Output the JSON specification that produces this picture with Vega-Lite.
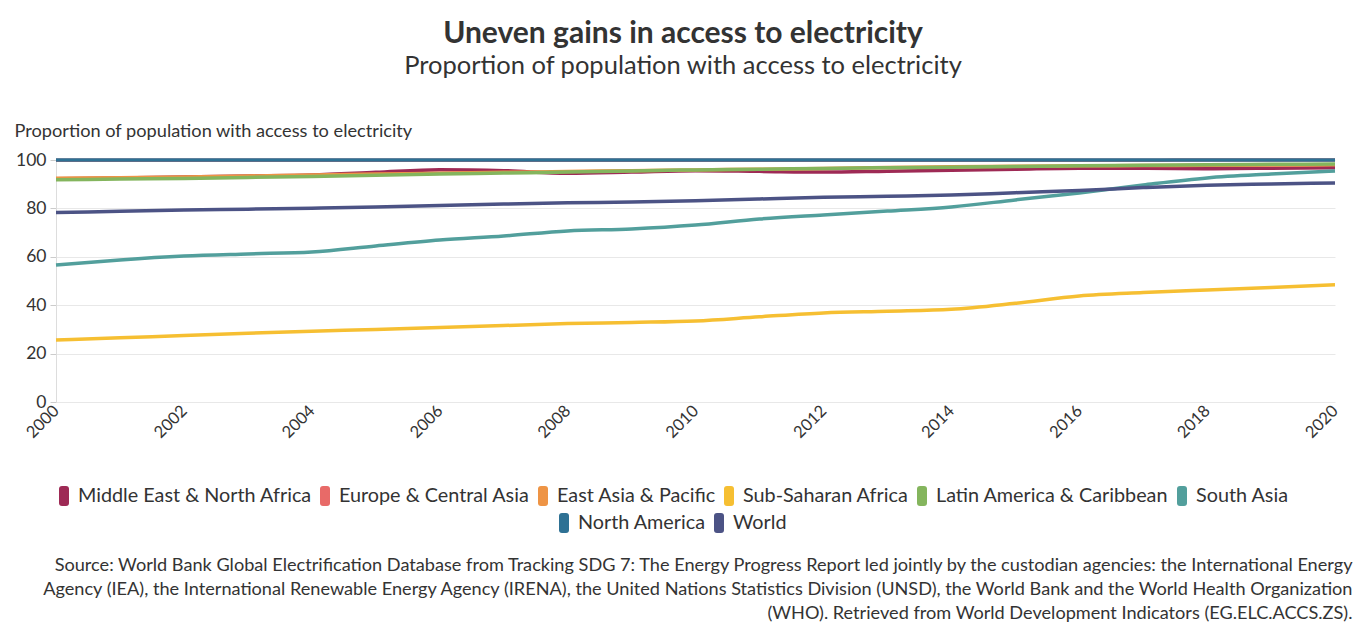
{
  "$schema": "https://vega.github.io/schema/vega-lite/v6.json",
  "width": 1279,
  "height": 242,
  "padding": {"left": 14, "top": 18, "right": 14, "bottom": 5},
  "autosize": {"type": "pad"},
  "background": "white",
  "config": {"view": {"stroke": null}, "font": "Lato"},
  "title": {
    "text": "Uneven gains in access to electricity",
    "subtitle": "Proportion of population with access to electricity",
    "anchor": "middle",
    "frame": "bounds",
    "font": "Lato",
    "fontSize": 30,
    "fontWeight": "bold",
    "color": "#333333",
    "subtitleFont": "Lato",
    "subtitleFontSize": 25.5,
    "subtitleColor": "#333333",
    "subtitlePadding": 5,
    "offset": 42
  },
  "data": {
    "values": [
      {"year": 2000, "Middle East & North Africa": 92.3, "Europe & Central Asia": 99.9, "East Asia & Pacific": 92.5, "Sub-Saharan Africa": 25.6, "Latin America & Caribbean": 91.8, "South Asia": 56.6, "North America": 100, "World": 78.3},
      {"year": 2001, "Middle East & North Africa": 92.6, "Europe & Central Asia": 99.9, "East Asia & Pacific": 92.7, "Sub-Saharan Africa": 26.5, "Latin America & Caribbean": 92.1, "South Asia": 58.7, "North America": 100, "World": 78.8},
      {"year": 2002, "Middle East & North Africa": 93.0, "Europe & Central Asia": 99.9, "East Asia & Pacific": 93.0, "Sub-Saharan Africa": 27.5, "Latin America & Caribbean": 92.4, "South Asia": 60.3, "North America": 100, "World": 79.3},
      {"year": 2003, "Middle East & North Africa": 93.4, "Europe & Central Asia": 99.9, "East Asia & Pacific": 93.4, "Sub-Saharan Africa": 28.4, "Latin America & Caribbean": 92.8, "South Asia": 61.2, "North America": 100, "World": 79.7},
      {"year": 2004, "Middle East & North Africa": 93.8, "Europe & Central Asia": 99.9, "East Asia & Pacific": 93.8, "Sub-Saharan Africa": 29.2, "Latin America & Caribbean": 93.2, "South Asia": 62.0, "North America": 100, "World": 80.1},
      {"year": 2005, "Middle East & North Africa": 94.9, "Europe & Central Asia": 99.9, "East Asia & Pacific": 94.2, "Sub-Saharan Africa": 30.0, "Latin America & Caribbean": 93.7, "South Asia": 64.5, "North America": 100, "World": 80.6},
      {"year": 2006, "Middle East & North Africa": 96.0, "Europe & Central Asia": 99.9, "East Asia & Pacific": 94.5, "Sub-Saharan Africa": 30.8, "Latin America & Caribbean": 94.2, "South Asia": 66.9, "North America": 100, "World": 81.2},
      {"year": 2007, "Middle East & North Africa": 95.6, "Europe & Central Asia": 99.9, "East Asia & Pacific": 94.9, "Sub-Saharan Africa": 31.6, "Latin America & Caribbean": 94.6, "South Asia": 68.6, "North America": 100, "World": 81.8},
      {"year": 2008, "Middle East & North Africa": 94.5, "Europe & Central Asia": 99.9, "East Asia & Pacific": 95.2, "Sub-Saharan Africa": 32.4, "Latin America & Caribbean": 95.0, "South Asia": 70.7, "North America": 100, "World": 82.3},
      {"year": 2009, "Middle East & North Africa": 95.0, "Europe & Central Asia": 99.9, "East Asia & Pacific": 95.6, "Sub-Saharan Africa": 32.9, "Latin America & Caribbean": 95.5, "South Asia": 71.5, "North America": 100, "World": 82.6},
      {"year": 2010, "Middle East & North Africa": 95.6, "Europe & Central Asia": 99.9, "East Asia & Pacific": 95.9, "Sub-Saharan Africa": 33.5, "Latin America & Caribbean": 95.9, "South Asia": 73.1, "North America": 100, "World": 83.2},
      {"year": 2011, "Middle East & North Africa": 95.3, "Europe & Central Asia": 99.9, "East Asia & Pacific": 96.2, "Sub-Saharan Africa": 35.2, "Latin America & Caribbean": 96.2, "South Asia": 75.6, "North America": 100, "World": 83.9},
      {"year": 2012, "Middle East & North Africa": 95.0, "Europe & Central Asia": 99.9, "East Asia & Pacific": 96.5, "Sub-Saharan Africa": 36.8, "Latin America & Caribbean": 96.5, "South Asia": 77.3, "North America": 100, "World": 84.6},
      {"year": 2013, "Middle East & North Africa": 95.4, "Europe & Central Asia": 99.9, "East Asia & Pacific": 96.9, "Sub-Saharan Africa": 37.5, "Latin America & Caribbean": 96.8, "South Asia": 78.9, "North America": 100, "World": 85.0},
      {"year": 2014, "Middle East & North Africa": 95.8, "Europe & Central Asia": 99.9, "East Asia & Pacific": 97.2, "Sub-Saharan Africa": 38.3, "Latin America & Caribbean": 97.0, "South Asia": 80.6, "North America": 100, "World": 85.5},
      {"year": 2015, "Middle East & North Africa": 96.2, "Europe & Central Asia": 99.9, "East Asia & Pacific": 97.4, "Sub-Saharan Africa": 40.8, "Latin America & Caribbean": 97.3, "South Asia": 83.5, "North America": 100, "World": 86.5},
      {"year": 2016, "Middle East & North Africa": 96.6, "Europe & Central Asia": 99.9, "East Asia & Pacific": 97.6, "Sub-Saharan Africa": 43.8, "Latin America & Caribbean": 97.6, "South Asia": 86.4, "North America": 100, "World": 87.4},
      {"year": 2017, "Middle East & North Africa": 96.6, "Europe & Central Asia": 99.9, "East Asia & Pacific": 97.7, "Sub-Saharan Africa": 45.2, "Latin America & Caribbean": 97.8, "South Asia": 89.7, "North America": 100, "World": 88.6},
      {"year": 2018, "Middle East & North Africa": 96.4, "Europe & Central Asia": 100, "East Asia & Pacific": 97.8, "Sub-Saharan Africa": 46.3, "Latin America & Caribbean": 98.0, "South Asia": 92.6, "North America": 100, "World": 89.6},
      {"year": 2019, "Middle East & North Africa": 96.6, "Europe & Central Asia": 100, "East Asia & Pacific": 97.9, "Sub-Saharan Africa": 47.3, "Latin America & Caribbean": 98.2, "South Asia": 94.2, "North America": 100, "World": 90.1},
      {"year": 2020, "Middle East & North Africa": 96.8, "Europe & Central Asia": 100, "East Asia & Pacific": 98.0, "Sub-Saharan Africa": 48.4, "Latin America & Caribbean": 98.3, "South Asia": 95.5, "North America": 100, "World": 90.5}
    ]
  },
  "transform": [
    {"fold": ["Middle East & North Africa", "Europe & Central Asia", "East Asia & Pacific", "Sub-Saharan Africa", "Latin America & Caribbean", "South Asia", "North America", "World"], "as": ["region", "value"]}
  ],
  "encoding": {
    "x": {
      "field": "year",
      "type": "quantitative",
      "scale": {"domain": [2000, 2020], "nice": false, "zero": false},
      "axis": {
        "values": [2000, 2002, 2004, 2006, 2008, 2010, 2012, 2014, 2016, 2018, 2020],
        "format": "d",
        "grid": false,
        "domain": false,
        "ticks": false,
        "labelAngle": -45,
        "labelAlign": "right",
        "labelBaseline": "middle",
        "labelFontSize": 16.5,
        "labelColor": "#333333",
        "labelPadding": 6,
        "title": [
          "Source: World Bank Global Electrification Database from Tracking SDG 7: The Energy Progress Report led jointly by the custodian agencies: the International Energy",
          "Agency (IEA), the International Renewable Energy Agency (IRENA), the United Nations Statistics Division (UNSD), the World Bank and the World Health Organization",
          "(WHO). Retrieved from World Development Indicators (EG.ELC.ACCS.ZS)."
        ],
        "titleX": 1296,
        "titleY": 154,
        "titleAlign": "right",
        "titleBaseline": "top",
        "titleFontSize": 18.15,
        "titleFontWeight": "normal",
        "titleColor": "#333333",
        "titleLineHeight": 24,
        "titleLimit": 0
      }
    },
    "y": {
      "field": "value",
      "type": "quantitative",
      "scale": {"domain": [0, 100], "nice": false},
      "axis": {
        "values": [0, 20, 40, 60, 80, 100],
        "gridColor": "#e8e8e8",
        "domainColor": "#dddddd",
        "tickColor": "#cccccc",
        "tickSize": 6,
        "labelFontSize": 17.5,
        "labelColor": "#333333",
        "labelPadding": 4,
        "title": "Proportion of population with access to electricity",
        "titleAngle": 0,
        "titleAlign": "left",
        "titleBaseline": "alphabetic",
        "titleX": -42,
        "titleY": -24,
        "titleFontSize": 18.2,
        "titleFontWeight": "normal",
        "titleColor": "#333333",
        "titleLimit": 0
      }
    }
  },
  "layer": [
    {
      "transform": [{"filter": {"field": "region", "oneOf": ["Middle East & North Africa"]}}],
      "mark": {"type": "line", "strokeWidth": 3.5, "interpolate": "monotone"},
      "encoding": {
        "color": {
          "field": "region",
          "type": "nominal",
          "scale": {
            "domain": ["Middle East & North Africa", "Europe & Central Asia", "East Asia & Pacific", "Sub-Saharan Africa", "Latin America & Caribbean", "South Asia"],
            "range": ["#9e2a55", "#e86a68", "#ee9445", "#f6bf32", "#84b55d", "#529f9c"]
          },
          "legend": {
            "title": null,
            "orient": "none",
            "legendX": -2,
            "legendY": 326,
            "direction": "horizontal",
            "columns": 6,
            "labelFontSize": 19.8,
            "labelLimit": 0,
            "labelColor": "#333333",
            "labelOffset": 4,
            "columnPadding": 3,
            "symbolType": "M-0.5,-0.7Q-0.5,-1 -0.2,-1H0.2Q0.5,-1 0.5,-0.7V0.7Q0.5,1 0.2,1H-0.2Q-0.5,1 -0.5,0.7Z",
            "symbolSize": 400,
            "symbolStrokeWidth": 0,
            "encode": {"symbols": {"update": {"fill": {"scale": "color", "field": "value"}, "fillOpacity": {"value": 1}, "strokeWidth": {"value": 0}}}}
          }
        }
      }
    },
    {
      "transform": [{"filter": {"field": "region", "oneOf": ["Europe & Central Asia", "East Asia & Pacific", "Sub-Saharan Africa", "Latin America & Caribbean", "South Asia"]}}],
      "mark": {"type": "line", "strokeWidth": 3.5, "interpolate": "monotone"},
      "encoding": {
        "color": {
          "field": "region",
          "type": "nominal",
          "scale": {
            "domain": ["Middle East & North Africa", "Europe & Central Asia", "East Asia & Pacific", "Sub-Saharan Africa", "Latin America & Caribbean", "South Asia"],
            "range": ["#9e2a55", "#e86a68", "#ee9445", "#f6bf32", "#84b55d", "#529f9c"]
          },
          "legend": {
            "title": null,
            "orient": "none",
            "legendX": -2,
            "legendY": 326,
            "direction": "horizontal",
            "columns": 6,
            "labelFontSize": 19.8,
            "labelLimit": 0,
            "labelColor": "#333333",
            "labelOffset": 4,
            "columnPadding": 3,
            "symbolType": "M-0.5,-0.7Q-0.5,-1 -0.2,-1H0.2Q0.5,-1 0.5,-0.7V0.7Q0.5,1 0.2,1H-0.2Q-0.5,1 -0.5,0.7Z",
            "symbolSize": 400,
            "symbolStrokeWidth": 0,
            "encode": {"symbols": {"update": {"fill": {"scale": "color", "field": "value"}, "fillOpacity": {"value": 1}, "strokeWidth": {"value": 0}}}}
          }
        }
      }
    },
    {
      "transform": [{"filter": {"field": "region", "oneOf": ["North America", "World"]}}],
      "mark": {"type": "line", "strokeWidth": 3.5, "interpolate": "monotone"},
      "encoding": {
        "stroke": {
          "field": "region",
          "type": "nominal",
          "scale": {"domain": ["North America", "World"], "range": ["#2e7194", "#4c5385"]},
          "legend": {
            "title": null,
            "orient": "none",
            "legendX": 498,
            "legendY": 353,
            "direction": "horizontal",
            "labelFontSize": 19.8,
            "labelLimit": 0,
            "labelColor": "#333333",
            "labelOffset": 4,
            "columnPadding": 3,
            "symbolType": "M-0.5,-0.7Q-0.5,-1 -0.2,-1H0.2Q0.5,-1 0.5,-0.7V0.7Q0.5,1 0.2,1H-0.2Q-0.5,1 -0.5,0.7Z",
            "symbolSize": 400,
            "symbolStrokeWidth": 0,
            "encode": {"symbols": {"update": {"fill": {"scale": "stroke", "field": "value"}, "fillOpacity": {"value": 1}, "strokeWidth": {"value": 0}}}}
          }
        }
      }
    }
  ]
}
